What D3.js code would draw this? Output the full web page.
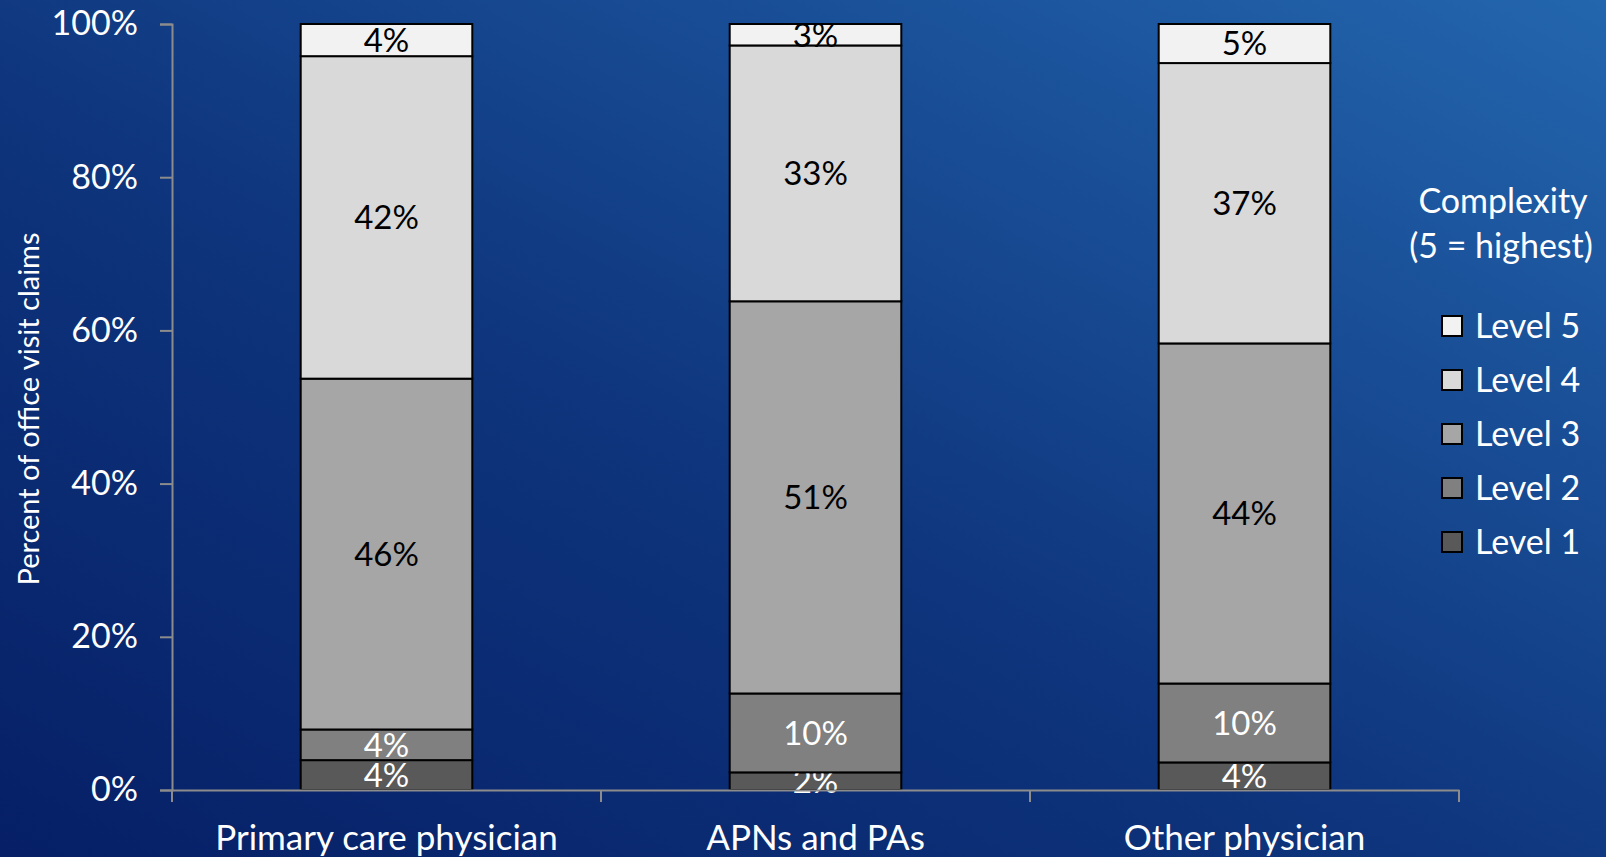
<!DOCTYPE html>
<html>
<head>
<meta charset="utf-8">
<script src="https://cdn.jsdelivr.net/npm/d3@7"></script>
<style>
  html, body { margin: 0; padding: 0; overflow: hidden; }
  body { width: 1606px; height: 857px; }
  text { font-family: Lato, "Open Sans", sans-serif; }
</style>
</head>
<body>
<div id="chart"></div>
<script>
// chart data
var categories = ["Primary care physician", "APNs and PAs", "Other physician"];
var levels = ["Level 1", "Level 2", "Level 3", "Level 4", "Level 5"];
var level1 = [3.9, 2.3, 3.6];
var level2 = [4.0, 10.3, 10.3];
var level3 = [45.8, 51.2, 44.4];
var level4 = [42.1, 33.4, 36.6];
var level5 = [4.2, 2.8, 5.1];
var yTicks = [0, 20, 40, 60, 80, 100];

var levelColors = ["#595959", "#808080", "#a6a6a6", "#d9d9d9", "#f2f2f2"];
var labelColors = ["#ffffff", "#ffffff", "#000000", "#000000", "#000000"];

var svgWidth = 1606;
var svgHeight = 857;

var margin = { top: 24, right: 147, bottom: 67, left: 172 };
var width = svgWidth - margin.left - margin.right;
var height = svgHeight - margin.top - margin.bottom;

var svg = d3.select("#chart")
  .append("svg")
  .attr("width", svgWidth)
  .attr("height", svgHeight);

// background gradient
var defs = svg.append("defs");
var grad = defs.append("linearGradient")
  .attr("id", "bg")
  .attr("x1", "0%").attr("y1", "100%")
  .attr("x2", "100%").attr("y2", "0%");
grad.append("stop").attr("offset", "0%").attr("stop-color", "#061f66");
grad.append("stop").attr("offset", "45%").attr("stop-color", "#0e357d");
grad.append("stop").attr("offset", "100%").attr("stop-color", "#2366ae");

svg.append("rect")
  .attr("width", svgWidth)
  .attr("height", svgHeight)
  .attr("fill", "url(#bg)");

var chartGroup = svg.append("g")
  .attr("transform", `translate(${margin.left}, ${margin.top})`);

// build rows for the stack
var rows = categories.map(function(c, i) {
  return {
    category: c,
    "Level 1": level1[i],
    "Level 2": level2[i],
    "Level 3": level3[i],
    "Level 4": level4[i],
    "Level 5": level5[i]
  };
});

var stack = d3.stack().keys(levels);
var series = stack(rows);

var xScale = d3.scaleBand()
  .domain(categories)
  .range([0, width])
  .paddingInner(0.6)
  .paddingOuter(0.3);

var yScale = d3.scaleLinear()
  .domain([0, 100])
  .range([height, 0]);

// bars
var layers = chartGroup.selectAll(".layer")
  .data(series)
  .enter()
  .append("g")
  .attr("class", "layer");

layers.selectAll("rect")
  .data(function(s) { return s.map(function(d) { d.key = s.key; d.index = s.index; return d; }); })
  .enter()
  .append("rect")
  .attr("x", d => xScale(d.data.category))
  .attr("y", d => yScale(d[1]))
  .attr("width", xScale.bandwidth())
  .attr("height", d => yScale(d[0]) - yScale(d[1]))
  .attr("fill", d => levelColors[d.index])
  .attr("stroke", "#000")
  .attr("stroke-width", 2);

// value labels
layers.selectAll("text")
  .data(function(s) { return s; })
  .enter()
  .append("text")
  .attr("x", d => xScale(d.data.category) + xScale.bandwidth() / 2)
  .attr("y", d => (yScale(d[0]) + yScale(d[1])) / 2)
  .attr("dy", "0.36em")
  .attr("text-anchor", "middle")
  .attr("font-size", 33)
  .attr("fill", d => labelColors[d.index])
  .text(d => Math.round(d[1] - d[0]) + "%");

// y axis
var leftAxis = d3.axisLeft(yScale)
  .tickValues(yTicks)
  .tickSize(12)
  .tickSizeOuter(12)
  .tickPadding(22)
  .tickFormat(d => d + "%");

var yAxis = chartGroup.append("g").call(leftAxis);
yAxis.selectAll("path, line").attr("stroke", "#8c8c8c").attr("stroke-width", 2);
yAxis.selectAll("text")
  .attr("fill", "#fff")
  .attr("font-size", 34)
  .style("font-family", "Lato, sans-serif");

// x axis with ticks at band boundaries
var bottomAxis = d3.axisBottom(xScale).tickSize(0).tickPadding(35);
var xAxis = chartGroup.append("g")
  .attr("transform", `translate(0, ${height})`)
  .call(bottomAxis);
xAxis.select(".domain").attr("stroke", "#8c8c8c").attr("stroke-width", 2);
xAxis.selectAll("text")
  .attr("fill", "#fff")
  .attr("font-size", 35)
  .style("font-family", "Lato, sans-serif");

var step = xScale.step();
var boundaries = categories.map(function(c) { return xScale(c) - (step - xScale.bandwidth()) / 2; });
boundaries.push(width);
xAxis.selectAll(".boundary")
  .data(boundaries)
  .enter()
  .append("line")
  .attr("class", "boundary")
  .attr("x1", d => d).attr("x2", d => d)
  .attr("y1", 0).attr("y2", 12)
  .attr("stroke", "#8c8c8c")
  .attr("stroke-width", 2);

// y axis title
svg.append("text")
  .attr("transform", `translate(39, ${margin.top + height / 2 + 2}) rotate(-90)`)
  .attr("text-anchor", "middle")
  .attr("fill", "#fff")
  .attr("font-size", 29)
  .text("Percent of office visit claims");

// legend
var legend = svg.append("g").attr("transform", "translate(1442, 0)");

legend.append("text")
  .attr("x", 61).attr("y", 213)
  .attr("text-anchor", "middle")
  .attr("fill", "#fff")
  .attr("font-size", 34)
  .text("Complexity");
legend.append("text")
  .attr("x", 59).attr("y", 258)
  .attr("text-anchor", "middle")
  .attr("fill", "#fff")
  .attr("font-size", 34)
  .text("(5 = highest)");

var legendItems = levels.slice().reverse();
var items = legend.selectAll(".item")
  .data(legendItems)
  .enter()
  .append("g")
  .attr("class", "item")
  .attr("transform", (d, i) => `translate(0, ${316 + i * 54})`);

items.append("rect")
  .attr("width", 20).attr("height", 20)
  .attr("fill", d => levelColors[levels.indexOf(d)])
  .attr("stroke", "#000")
  .attr("stroke-width", 2);

items.append("text")
  .attr("x", 33).attr("y", 10)
  .attr("dy", "0.36em")
  .attr("fill", "#fff")
  .attr("font-size", 34)
  .text(d => d);
</script>
</body>
</html>
